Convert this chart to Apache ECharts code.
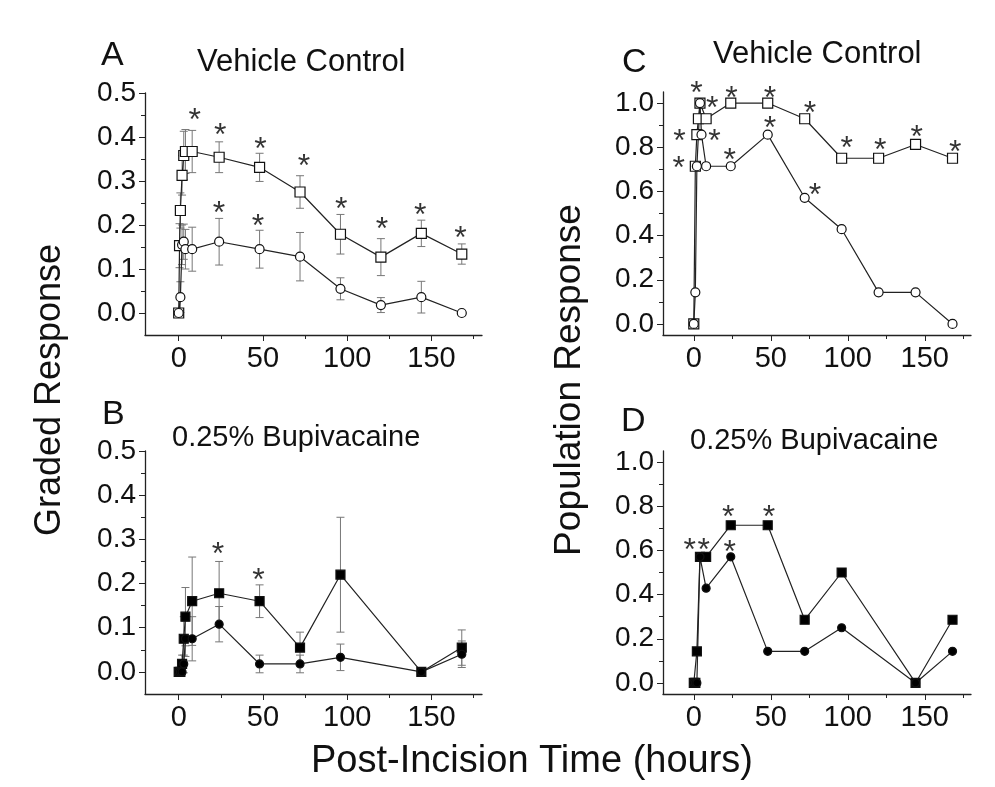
<!DOCTYPE html>
<html>
<head>
<meta charset="utf-8">
<script src="https://cdn.jsdelivr.net/npm/echarts@6.0.0/dist/echarts.min.js"></script>
<style>html,body{margin:0;padding:0;background:#fff}#main{width:995px;height:787px}</style>
</head>
<body>
<div id="main"></div>
<script>
var FONT = '"Liberation Sans", Arial, sans-serif';

// A: graded response, vehicle control
var aSqT = [0, 0.5, 1, 2, 3, 4, 8, 24, 48, 72, 96, 120, 144, 168];
var aSqV = [0, 0.153, 0.233, 0.313, 0.358, 0.367, 0.367, 0.354, 0.331, 0.275, 0.179, 0.127, 0.181, 0.134];
var aSqE = [0, 0.05, 0.04, 0.045, 0.055, 0.05, 0.048, 0.035, 0.032, 0.037, 0.045, 0.042, 0.03, 0.023];
var aCiT = [0, 1, 2, 3, 4, 8, 24, 48, 72, 96, 120, 144, 168];
var aCiV = [0, 0.036, 0.155, 0.162, 0.145, 0.145, 0.162, 0.145, 0.128, 0.055, 0.018, 0.036, 0];
var aCiE = [0, 0.035, 0.045, 0.04, 0.045, 0.05, 0.053, 0.043, 0.055, 0.025, 0.017, 0.036, 0];
var aStars = [[9.5, 0.455], [24.7, 0.42], [48.6, 0.389], [74.3, 0.35], [96.5, 0.252], [120.6, 0.207], [143.4, 0.239], [167.3, 0.185], [23.9, 0.243], [47, 0.214]];

// B: graded response, bupivacaine
var bSqT = [0, 1, 2, 3, 4, 8, 24, 48, 72, 96, 144, 168];
var bSqV = [0, 0, 0.018, 0.075, 0.125, 0.16, 0.178, 0.16, 0.055, 0.22, 0, 0.055];
var bSqE = [0, 0, 0.02, 0.05, 0.066, 0.1, 0.072, 0.037, 0.035, 0.13, 0, 0.04];
var bCiT = [0, 1, 2, 3, 4, 8, 24, 48, 72, 96, 144, 168];
var bCiV = [0, 0, 0, 0.018, 0.075, 0.075, 0.108, 0.018, 0.018, 0.033, 0, 0.04];
var bCiE = [0, 0, 0, 0.02, 0.04, 0.05, 0.04, 0.02, 0.02, 0.03, 0, 0.03];
var bStars = [[23.3, 0.283], [47.4, 0.223]];

// C: population response, vehicle control
var cSqT = [0, 1, 2, 3, 4, 8, 24, 48, 72, 96, 120, 144, 168];
var cSqV = [0, 0.714, 0.857, 0.929, 1.0, 0.929, 1.0, 1.0, 0.929, 0.75, 0.75, 0.8125, 0.75];
var cCiT = [0, 1, 2, 4, 5, 8, 24, 48, 72, 96, 120, 144, 168];
var cCiV = [0, 0.143, 0.714, 1.0, 0.857, 0.714, 0.714, 0.857, 0.571, 0.429, 0.143, 0.143, 0];
var cStars = [[1.8, 1.075], [12, 1.007], [24.5, 1.053], [49.4, 1.053], [75.4, 0.988], [99.3, 0.829], [121, 0.82], [144.8, 0.879], [169.7, 0.81],
              [-9.3, 0.86], [13.5, 0.86], [-9.75, 0.735], [23.4, 0.773], [49.4, 0.916], [78.7, 0.614]];

// D: population response, bupivacaine
var dSqT = [0, 1, 2, 4, 8, 24, 48, 72, 96, 144, 168];
var dSqV = [0, 0, 0.143, 0.571, 0.571, 0.714, 0.714, 0.286, 0.5, 0, 0.286];
var dCiT = [0, 1, 2, 4, 8, 24, 48, 72, 96, 144, 168];
var dCiV = [0, 0, 0, 0.571, 0.429, 0.571, 0.143, 0.143, 0.25, 0, 0.143];
var dStars = [[-2.6, 0.633], [6.5, 0.633], [22.4, 0.78], [48.8, 0.78], [23.4, 0.623]];

var xMajor = [0, 50, 100, 150];
var xMinor = [25, 75, 125, 175];
var gMajor = [0, 0.1, 0.2, 0.3, 0.4, 0.5];
var gMinor = [0.05, 0.15, 0.25, 0.35, 0.45];
var pMajor = [0, 0.2, 0.4, 0.6, 0.8, 1.0];
var pMinor = [0.1, 0.3, 0.5, 0.7, 0.9];

var myChart = echarts.init(document.getElementById('main'));

var grids = [
    {left: 145, top: 93, width: 337, height: 242},
    {left: 145, top: 451, width: 337, height: 243},
    {left: 663, top: 92, width: 308, height: 243},
    {left: 663, top: 451, width: 308, height: 243}
];
grids.forEach(function (g) { g.outerBoundsMode = 'none'; });

var lineCol = '#222';
var xAxes = [], yAxes = [];
grids.forEach(function (g, i) {
    xAxes.push({
        type: 'value', gridIndex: i, position: 'bottom', min: -20, max: 180,
        axisLine: {show: true, onZero: false, lineStyle: {color: lineCol, width: 1.3}},
        axisTick: {customValues: xMajor, length: 6, lineStyle: {color: lineCol}},
        axisLabel: {customValues: xMajor, fontSize: 29, color: '#111', fontFamily: FONT, margin: 9},
        splitLine: {show: false}
    });
    xAxes.push({
        type: 'value', gridIndex: i, position: 'bottom', min: -20, max: 180,
        axisLine: {show: false, onZero: false},
        axisTick: {customValues: xMinor, length: 4, lineStyle: {color: lineCol}},
        axisLabel: {show: false},
        splitLine: {show: false}
    });
    var graded = i < 2;
    var ymin = -0.05, ymax = graded ? 0.5 : 1.05;
    yAxes.push({
        type: 'value', gridIndex: i, position: 'left', min: ymin, max: ymax,
        axisLine: {show: true, onZero: false, lineStyle: {color: lineCol, width: 1.3}},
        axisTick: {customValues: graded ? gMajor : pMajor, length: 6, lineStyle: {color: lineCol}},
        axisLabel: {customValues: graded ? gMajor : pMajor, fontSize: 28, color: '#111', fontFamily: FONT, margin: 9,
            formatter: function (v) { return v.toFixed(1); }},
        splitLine: {show: false}
    });
    yAxes.push({
        type: 'value', gridIndex: i, position: 'left', min: ymin, max: ymax,
        axisLine: {show: false, onZero: false},
        axisTick: {customValues: graded ? gMinor : pMinor, length: 4, lineStyle: {color: lineCol}},
        axisLabel: {show: false},
        splitLine: {show: false}
    });
});

function pairs(t, v) { return t.map(function (x, i) { return [x, v[i]]; }); }
function triples(t, v, e) { return t.map(function (x, i) { return [x, v[i], e[i]]; }); }

function errBars(idx, t, v, e) {
    return {
        type: 'custom', xAxisIndex: idx * 2, yAxisIndex: idx * 2, z: 1, silent: true, clip: false,
        data: triples(t, v, e),
        renderItem: function (params, api) {
            var x = api.value(0), y = api.value(1), d = api.value(2);
            if (!d) return null;
            var top = api.coord([x, y + d]);
            var bot = api.coord([x, y - d]);
            var w = 4;
            var st = {stroke: '#777', lineWidth: 1};
            return {type: 'group', children: [
                {type: 'line', shape: {x1: top[0], y1: top[1], x2: bot[0], y2: bot[1]}, style: st},
                {type: 'line', shape: {x1: top[0] - w, y1: top[1], x2: top[0] + w, y2: top[1]}, style: st},
                {type: 'line', shape: {x1: bot[0] - w, y1: bot[1], x2: bot[0] + w, y2: bot[1]}, style: st}
            ]};
        }
    };
}

function curve(idx, t, v, sym, filled) {
    return {
        type: 'line', xAxisIndex: idx * 2, yAxisIndex: idx * 2, z: 3, clip: false,
        data: pairs(t, v), showAllSymbol: true,
        symbol: sym, symbolSize: sym === 'rect' ? (filled ? 9 : 10) : (filled ? 8 : 9),
        lineStyle: {color: lineCol, width: 1.2},
        itemStyle: {color: filled ? '#000' : '#fff', borderColor: '#111', borderWidth: 1.2},
        emphasis: {disabled: true}
    };
}

function stars(idx, s) {
    return {
        type: 'scatter', xAxisIndex: idx * 2, yAxisIndex: idx * 2, z: 5, clip: false, silent: true,
        data: s, symbolSize: 1, itemStyle: {color: 'rgba(0,0,0,0)'},
        label: {show: true, position: 'inside', formatter: '*', fontSize: 32, color: '#000', fontFamily: FONT, offset: [0, 8]}
    };
}

var series = [
    errBars(0, aSqT, aSqV, aSqE), errBars(0, aCiT, aCiV, aCiE),
    curve(0, aSqT, aSqV, 'rect', false), curve(0, aCiT, aCiV, 'circle', false), stars(0, aStars),
    errBars(1, bSqT, bSqV, bSqE), errBars(1, bCiT, bCiV, bCiE),
    curve(1, bSqT, bSqV, 'rect', true), curve(1, bCiT, bCiV, 'circle', true), stars(1, bStars),
    curve(2, cSqT, cSqV, 'rect', false), curve(2, cCiT, cCiV, 'circle', false), stars(2, cStars),
    curve(3, dSqT, dSqV, 'rect', true), curve(3, dCiT, dCiV, 'circle', true), stars(3, dStars)
];

function txt(s, x, y, size, rot, align) {
    return {type: 'text', x: x, y: y, rotation: rot || 0, silent: true,
        style: {text: s, font: size + 'px ' + FONT, fill: '#111', align: align || 'left', verticalAlign: 'middle'}};
}

var option = {
    animation: false,
    backgroundColor: '#fff',
    grid: grids,
    xAxis: xAxes,
    yAxis: yAxes,
    series: series,
    graphic: [
        txt('A', 101, 56, 34),
        txt('Vehicle Control', 197, 62, 31),
        txt('B', 102, 415, 34),
        txt('0.25% Bupivacaine', 172, 438, 29),
        txt('C', 622, 63, 34),
        txt('Vehicle Control', 713, 54, 31),
        txt('D', 621, 422, 34),
        txt('0.25% Bupivacaine', 690, 441, 29),
        txt('Graded Response', 50, 390, 36, Math.PI / 2, 'center'),
        txt('Population Response', 570, 380, 37, Math.PI / 2, 'center'),
        txt('Post-Incision Time (hours)', 532, 762, 38, 0, 'center')
    ]
};

myChart.setOption(option);
</script>
</body>
</html>
